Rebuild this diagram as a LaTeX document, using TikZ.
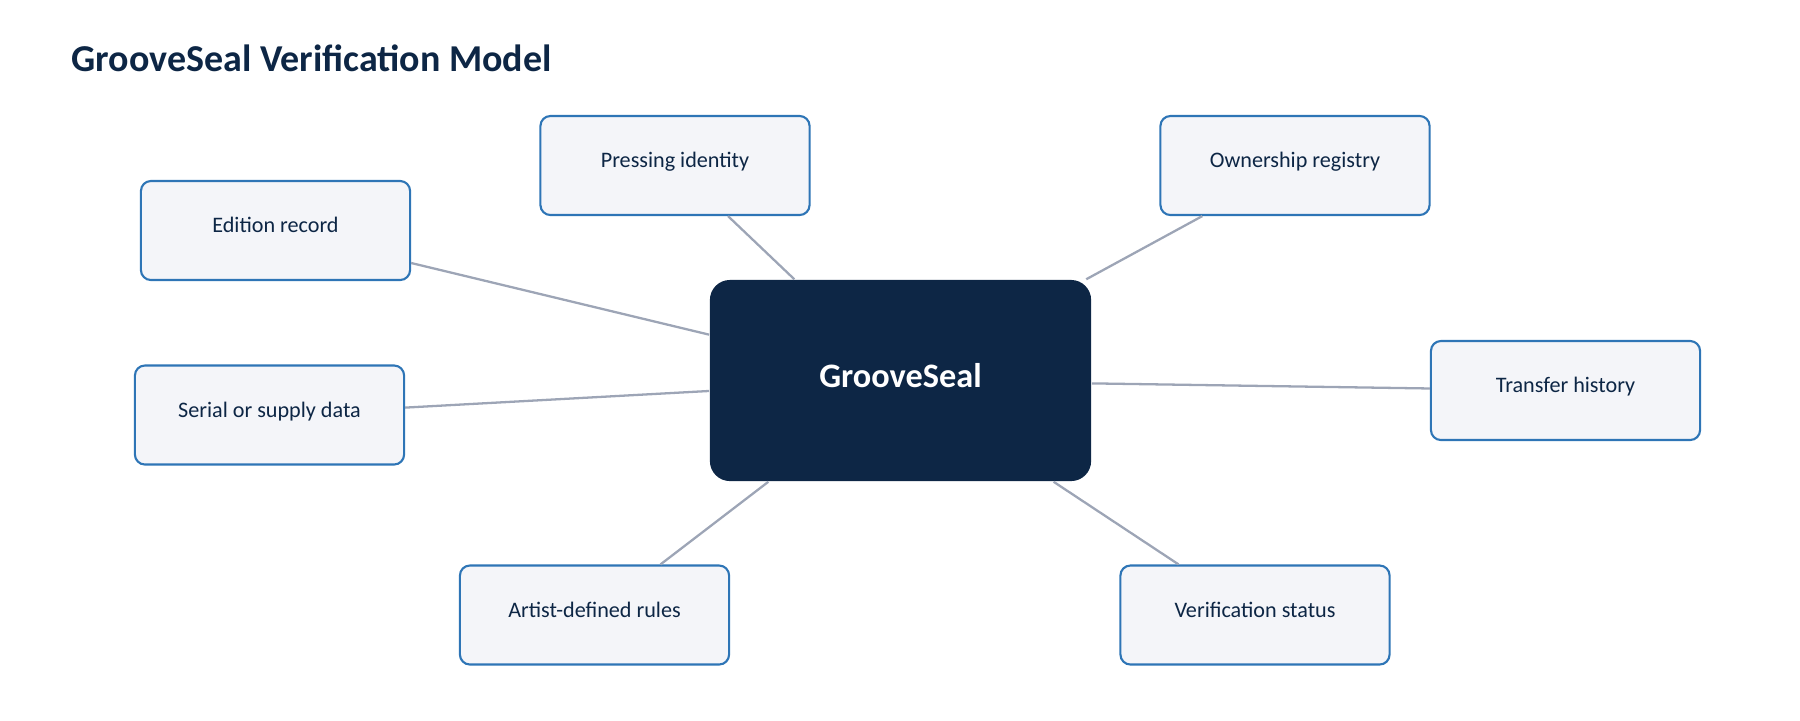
\documentclass[tikz,border=0pt]{standalone}
\usepackage{fontspec}
\setmainfont{Carlito}
\usepackage{xcolor}
\usetikzlibrary{positioning}
\definecolor{GS_Navy}{HTML}{0D2645}
\definecolor{GS_Blue}{HTML}{2E75B6}
\definecolor{GS_Pale}{HTML}{F4F5F9}
\definecolor{GS_Link}{HTML}{9DA5B6}

\begin{document}
\begin{tikzpicture}[x=0.01cm, y=-0.01cm,
  facet/.style={draw=GS_Blue, fill=GS_Pale, line width=0.6pt, rounded corners=0.1cm,
    minimum width=2.69cm, minimum height=0.99cm, text height=4.2pt, text depth=3pt,
    text=GS_Navy, font=\fontsize{6.3}{7.5}\selectfont},
  core/.style={fill=GS_Navy, rounded corners=0.2cm, minimum width=3.81cm, minimum height=2.01cm,
    text height=6.2pt, text depth=2.2pt, text=white, font=\fontsize{9.75}{11}\selectfont\bfseries},
  link/.style={draw=GS_Link, line width=0.65pt}]
% Canvas
\useasboundingbox (0,0) rectangle (1800,720);
% Title
\node[anchor=base west, inner sep=0, text=GS_Navy, font=\fontsize{10.8}{13}\selectfont\bfseries] (title) at (71,71) {GrooveSeal Verification Model};
% Hub
\node[core] (seal) at (900.5,380.5) {GrooveSeal};
% Facets
\node[facet] (edition) at (275.5,230.5) {Edition record};
\node[facet] (pressing) at (675,165.5) {Pressing identity};
\node[facet] (ownership) at (1295,165.5) {Ownership registry};
\node[facet] (transfer) at (1565.5,390.5) {Transfer history};
\node[facet] (serial) at (269.5,415) {Serial or supply data};
\node[facet] (artist) at (594.5,615) {Artist-defined rules};
\node[facet] (status) at (1255,615) {Verification status};
% Links
\foreach \f in {edition,pressing,ownership,transfer,serial,artist,status}
  \draw[link] (seal) -- (\f);
\end{tikzpicture}
\end{document}
